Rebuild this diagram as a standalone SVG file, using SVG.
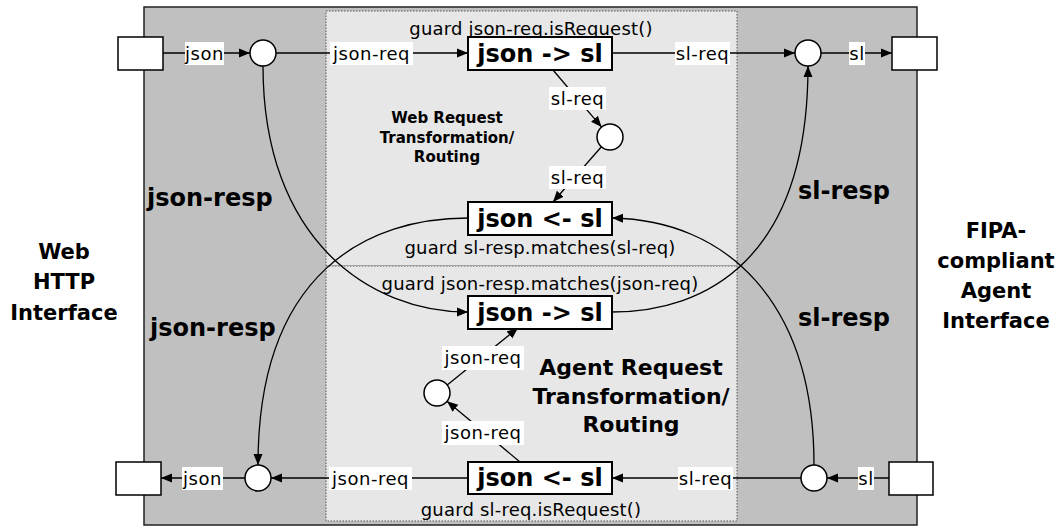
<svg xmlns="http://www.w3.org/2000/svg" width="1062" height="527" viewBox="0 0 1062 527">
<style>
text{font-family:"DejaVu Sans","Liberation Sans",sans-serif;fill:#000}
.lbl{font-size:18px;text-anchor:middle;letter-spacing:0.5px}
.bg{fill:#fff;stroke:none}
.guard{font-size:18px;text-anchor:middle;letter-spacing:0.2px}
.big{font-size:24px;font-weight:bold}
.side{font-size:21px;font-weight:bold;text-anchor:middle}
.zone1{font-size:15px;font-weight:bold;text-anchor:middle}
.zone2{font-size:22px;font-weight:bold;text-anchor:middle}
.box{fill:#fff;stroke:#000;stroke-width:2}
.trans{font-size:24px;font-weight:bold;text-anchor:middle}
.place{fill:#fff;stroke:#000;stroke-width:1.5}
.port{fill:#fff;stroke:#000;stroke-width:1.5}
.edge{fill:none;stroke:#000;stroke-width:1.3}
.arr{marker-end:url(#ah)}
</style>
<defs>
<marker id="ah" markerUnits="userSpaceOnUse" markerWidth="12" markerHeight="10" refX="11" refY="5" orient="auto">
<path d="M0,0.5 L11,5 L0,9.5 Z" fill="#000"/>
</marker>
</defs>
<g id="background">
<rect x="144" y="7" width="773" height="518" fill="#c0c0c0" stroke="#222" stroke-width="1.5"/>
<rect x="326" y="11" width="411" height="255" fill="#e7e7e7" stroke="#555" stroke-width="1" stroke-dasharray="1.5,1.5"/>
<rect x="326" y="266" width="411" height="255" fill="#e7e7e7" stroke="#555" stroke-width="1" stroke-dasharray="1.5,1.5"/>
</g>
<g id="side-labels">
<text class="side" x="64" y="259">Web</text>
<text class="side" x="64" y="289">HTTP</text>
<text class="side" x="64" y="320">Interface</text>
<text class="side" x="996" y="238">FIPA-</text>
<text class="side" x="996" y="268">compliant</text>
<text class="side" x="996" y="298">Agent</text>
<text class="side" x="996" y="328">Interface</text>
<text class="zone1" x="447" y="123">Web Request</text>
<text class="zone1" x="447" y="143">Transformation/</text>
<text class="zone1" x="447" y="162">Routing</text>
<text class="zone2" x="631" y="375">Agent Request</text>
<text class="zone2" x="631" y="404">Transformation/</text>
<text class="zone2" x="631" y="432">Routing</text>
<text class="big" x="147" y="206">json-resp</text>
<text class="big" x="150" y="336">json-resp</text>
<text class="big" x="798" y="199">sl-resp</text>
<text class="big" x="798" y="326">sl-resp</text>
</g>
<g id="connectors">
<line class="edge arr" x1="163" y1="53" x2="250" y2="53"/>
<line class="edge arr" x1="276" y1="53" x2="468" y2="53"/>
<line class="edge arr" x1="612" y1="53" x2="795" y2="53"/>
<line class="edge arr" x1="821" y1="53" x2="892" y2="53"/>
<line class="edge arr" x1="553" y1="70" x2="601.6" y2="127.1"/>
<line class="edge arr" x1="601.4" y1="146.8" x2="553" y2="202"/>
<path class="edge arr" d="M263,66 C263,240 370,312 468,312"/>
<path class="edge arr" d="M468,218 C370,218 258,270 258,465"/>
<path class="edge arr" d="M814,465 C814,300 725,220 612,218"/>
<path class="edge arr" d="M612,312 C705,312 808,260 808,66"/>
<line class="edge arr" x1="520" y1="462" x2="447" y2="401.3"/>
<line class="edge arr" x1="447.2" y1="384.9" x2="518" y2="328"/>
<line class="edge arr" x1="889" y1="478" x2="827" y2="478"/>
<line class="edge arr" x1="801" y1="478" x2="612" y2="478"/>
<line class="edge arr" x1="468" y1="478" x2="271" y2="478"/>
<line class="edge arr" x1="245" y1="478" x2="161" y2="478"/>
<rect class="bg" x="185" y="42" width="39" height="23"/><text class="lbl" x="204.5" y="60">json</text>
<rect class="bg" x="330" y="42" width="83" height="23"/><text class="lbl" x="371.5" y="60">json-req</text>
<rect class="bg" x="675" y="42" width="55" height="23"/><text class="lbl" x="702.5" y="60">sl-req</text>
<rect class="bg" x="849" y="42" width="16" height="23"/><text class="lbl" x="857" y="60">sl</text>
<rect class="bg" x="549" y="87" width="57" height="23"/><text class="lbl" x="577.5" y="105">sl-req</text>
<rect class="bg" x="549" y="166" width="57" height="23"/><text class="lbl" x="577.5" y="184">sl-req</text>
<rect class="bg" x="442" y="346" width="82" height="24"/><text class="lbl" x="483" y="364">json-req</text>
<rect class="bg" x="442" y="421" width="82" height="24"/><text class="lbl" x="483" y="439">json-req</text>
<rect class="bg" x="182" y="467" width="41" height="23"/><text class="lbl" x="202.5" y="485">json</text>
<rect class="bg" x="329" y="467" width="83" height="23"/><text class="lbl" x="370.5" y="485">json-req</text>
<rect class="bg" x="678" y="467" width="55" height="23"/><text class="lbl" x="705.5" y="485">sl-req</text>
<rect class="bg" x="858" y="467" width="16" height="23"/><text class="lbl" x="866" y="485">sl</text>
</g>
<g id="web-in-port"><rect class="port" x="118" y="37" width="45" height="33"/></g>
<g id="web-in-place"><circle class="place" cx="263" cy="53" r="13"/></g>
<g id="t-json-to-sl-1">
<text class="guard" x="531" y="35">guard json-req.isRequest()</text>
<rect class="box" x="468" y="37" width="144" height="33"/>
<text class="trans" x="540" y="62">json -&gt; sl</text>
</g>
<g id="agent-out-place"><circle class="place" cx="808" cy="53" r="13"/></g>
<g id="agent-out-port"><rect class="port" x="892" y="37" width="45" height="33"/></g>
<g id="mid-place-1"><circle class="place" cx="610" cy="137" r="13"/></g>
<g id="t-sl-to-json-1">
<rect class="box" x="468" y="202" width="144" height="33"/>
<text class="trans" x="540" y="227">json &lt;- sl</text>
<text class="guard" x="540" y="254">guard sl-resp.matches(sl-req)</text>
</g>
<g id="t-json-to-sl-2">
<text class="guard" x="540" y="290">guard json-resp.matches(json-req)</text>
<rect class="box" x="468" y="296" width="144" height="33"/>
<text class="trans" x="540" y="321">json -&gt; sl</text>
</g>
<g id="mid-place-2"><circle class="place" cx="437" cy="393" r="13"/></g>
<g id="t-sl-to-json-2">
<rect class="box" x="468" y="462" width="144" height="32"/>
<text class="trans" x="540" y="486">json &lt;- sl</text>
<text class="guard" x="531" y="516">guard sl-req.isRequest()</text>
</g>
<g id="web-out-place"><circle class="place" cx="258" cy="478" r="13"/></g>
<g id="web-out-port"><rect class="port" x="116" y="462" width="45" height="33"/></g>
<g id="agent-in-place"><circle class="place" cx="814" cy="478" r="13"/></g>
<g id="agent-in-port"><rect class="port" x="889" y="462" width="44" height="33"/></g>
</svg>
